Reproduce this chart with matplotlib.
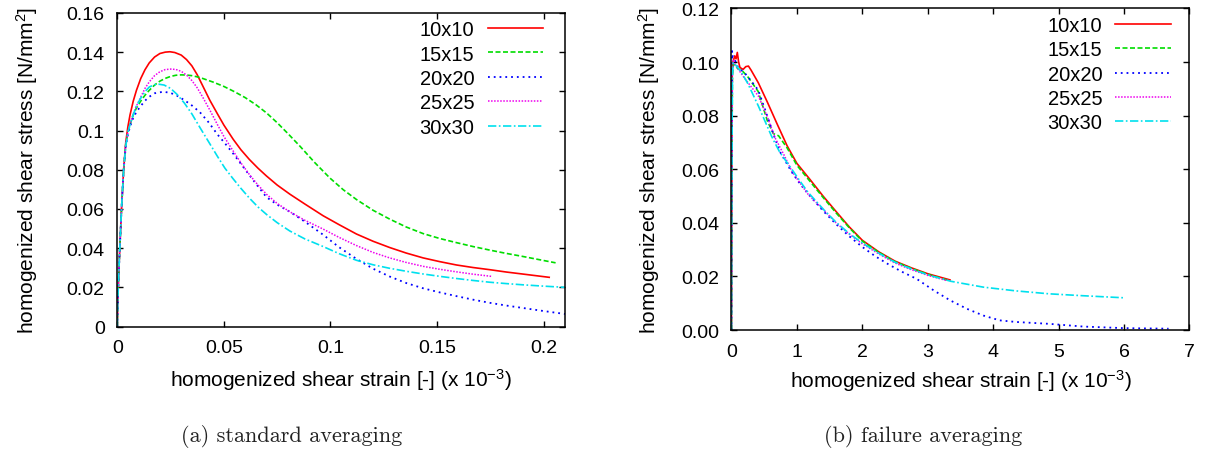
import matplotlib
matplotlib.use("Agg")
import matplotlib.pyplot as plt
from matplotlib.ticker import FuncFormatter, MultipleLocator

plt.rcParams['font.family'] = ['Liberation Sans', 'DejaVu Sans']
plt.rcParams['mathtext.fontset'] = 'custom'
plt.rcParams['mathtext.rm'] = 'Liberation Sans'
plt.rcParams['mathtext.it'] = 'Liberation Sans:italic'

labels = ['10x10', '15x15', '20x20', '25x25', '30x30']

# (a) standard averaging -- strain (x 10^-3), stress N/mm^2
std_x_10 = [0, 0.0003, 0.001, 0.002, 0.003, 0.004, 0.005, 0.006, 0.0075, 0.009, 0.011, 0.013, 0.015, 0.0175,
            0.02, 0.0225, 0.0247, 0.027, 0.03, 0.0325, 0.035, 0.0375, 0.04, 0.0434, 0.047, 0.05, 0.0544,
            0.058, 0.062, 0.066, 0.07, 0.075, 0.081, 0.088, 0.0966, 0.104, 0.1122, 0.12, 0.1278, 0.1355,
            0.1435, 0.1513, 0.1591, 0.1669, 0.1747, 0.1825, 0.19, 0.2026]
std_y_10 = [0, 0.015, 0.035, 0.06, 0.08, 0.094, 0.102, 0.108, 0.115, 0.1205, 0.1265, 0.131, 0.1345, 0.1375,
            0.1393, 0.14, 0.1402, 0.1398, 0.1385, 0.1362, 0.133, 0.1285, 0.123, 0.1155, 0.1085, 0.1028, 0.0955,
            0.0902, 0.0852, 0.0808, 0.0768, 0.0722, 0.0675, 0.0625, 0.0565, 0.052, 0.0472, 0.0435, 0.0403,
            0.0375, 0.035, 0.0331, 0.0314, 0.0301, 0.029, 0.0278, 0.0268, 0.0251]

std_x_15 = [0, 0.0003, 0.001, 0.002, 0.003, 0.004, 0.005, 0.006, 0.0075, 0.009, 0.011, 0.013, 0.015, 0.0175,
            0.02, 0.0225, 0.025, 0.0275, 0.03, 0.0325, 0.035, 0.0375, 0.04, 0.045, 0.05, 0.055, 0.06, 0.065,
            0.07, 0.075, 0.08, 0.0857, 0.0925, 0.0997, 0.106, 0.1122, 0.12, 0.1278, 0.1355, 0.1435, 0.1513,
            0.1591, 0.1669, 0.1747, 0.1825, 0.19, 0.198, 0.2056]
std_y_15 = [0, 0.015, 0.035, 0.06, 0.08, 0.093, 0.099, 0.103, 0.108, 0.1115, 0.115, 0.118, 0.1205, 0.1232,
            0.1252, 0.1266, 0.1276, 0.1282, 0.1284, 0.1283, 0.128, 0.1274, 0.1266, 0.1247, 0.1225, 0.1198,
            0.1168, 0.1132, 0.109, 0.104, 0.0985, 0.092, 0.0838, 0.0758, 0.0698, 0.0648, 0.0593, 0.0548,
            0.0508, 0.0474, 0.0449, 0.0428, 0.0408, 0.039, 0.0373, 0.0358, 0.0341, 0.0325]

std_x_20 = [0, 0.0003, 0.001, 0.002, 0.003, 0.004, 0.005, 0.006, 0.0075, 0.009, 0.011, 0.013, 0.015, 0.0175,
            0.0216, 0.025, 0.028, 0.0315, 0.035, 0.0388, 0.043, 0.047, 0.0505, 0.0544, 0.058, 0.062, 0.066,
            0.07, 0.075, 0.081, 0.088, 0.0966, 0.104, 0.1122, 0.12, 0.1278, 0.1355, 0.1435, 0.1513, 0.1591,
            0.1669, 0.1747, 0.1825, 0.19, 0.2, 0.21]
std_y_20 = [0, 0.015, 0.035, 0.06, 0.08, 0.092, 0.098, 0.102, 0.1065, 0.1095, 0.1125, 0.1152, 0.1172, 0.119,
            0.1198, 0.1192, 0.1178, 0.1155, 0.1128, 0.1093, 0.104, 0.098, 0.0935, 0.0882, 0.083, 0.0772,
            0.0715, 0.066, 0.0622, 0.0585, 0.0535, 0.0468, 0.0405, 0.0345, 0.0295, 0.0255, 0.0222, 0.0195,
            0.0174, 0.0155, 0.0137, 0.0121, 0.0107, 0.0095, 0.0079, 0.0064]

std_x_25 = [0, 0.0003, 0.001, 0.002, 0.003, 0.004, 0.005, 0.006, 0.0075, 0.009, 0.011, 0.013, 0.015, 0.0175,
            0.02, 0.0225, 0.0255, 0.028, 0.03, 0.0325, 0.035, 0.0375, 0.04, 0.0434, 0.047, 0.05, 0.0544,
            0.058, 0.062, 0.066, 0.07, 0.075, 0.081, 0.088, 0.0966, 0.104, 0.1122, 0.12, 0.1278, 0.1355,
            0.1435, 0.1513, 0.1591, 0.1669, 0.1755]
std_y_25 = [0, 0.015, 0.035, 0.06, 0.08, 0.093, 0.099, 0.1035, 0.1085, 0.1125, 0.117, 0.1215, 0.1248, 0.128,
            0.13, 0.1311, 0.1314, 0.131, 0.1302, 0.1283, 0.1255, 0.1218, 0.1172, 0.1105, 0.103, 0.097, 0.0895,
            0.0835, 0.0775, 0.0722, 0.0675, 0.0628, 0.0585, 0.0542, 0.0497, 0.0455, 0.0413, 0.0378, 0.035,
            0.0327, 0.0307, 0.0292, 0.0279, 0.0267, 0.0256]

std_x_30 = [0, 0.0003, 0.001, 0.002, 0.003, 0.004, 0.005, 0.006, 0.0075, 0.009, 0.011, 0.013, 0.015, 0.0175,
            0.0197, 0.022, 0.025, 0.028, 0.0315, 0.035, 0.0388, 0.043, 0.047, 0.0505, 0.0544, 0.058, 0.062,
            0.066, 0.07, 0.075, 0.081, 0.088, 0.0966, 0.104, 0.1122, 0.12, 0.1278, 0.1355, 0.1435, 0.1513,
            0.1591, 0.1669, 0.1747, 0.1825, 0.19, 0.2, 0.21]
std_y_30 = [0, 0.015, 0.035, 0.06, 0.08, 0.092, 0.099, 0.103, 0.108, 0.1125, 0.1165, 0.1198, 0.1222, 0.1234,
            0.1236, 0.1232, 0.1215, 0.1185, 0.114, 0.1085, 0.1015, 0.094, 0.0868, 0.0808, 0.0753, 0.0705,
            0.0655, 0.061, 0.0572, 0.053, 0.0487, 0.0447, 0.0408, 0.0372, 0.0338, 0.0315, 0.0297, 0.0282,
            0.0268, 0.0256, 0.0245, 0.0235, 0.0226, 0.0219, 0.0213, 0.0206, 0.02]

# (b) failure averaging
fail_x_10 = [0, 0.005, 0.012, 0.03, 0.05, 0.07, 0.09, 0.11, 0.13, 0.16, 0.18, 0.22, 0.26, 0.3, 0.41, 0.55,
             0.7, 0.85, 1.0, 1.2, 1.4, 1.6, 1.8, 2.0, 2.25, 2.5, 2.75, 3.0, 3.34]
fail_y_10 = [0, 0.05, 0.099, 0.1005, 0.1023, 0.1012, 0.1036, 0.1, 0.098, 0.0975, 0.0973, 0.0983, 0.0985,
             0.097, 0.0923, 0.085, 0.0768, 0.0688, 0.0622, 0.0562, 0.050, 0.0442, 0.0385, 0.0335, 0.0292,
             0.0257, 0.0232, 0.021, 0.0187]

fail_x_15 = [0, 0.005, 0.015, 0.03, 0.06, 0.1, 0.155, 0.25, 0.41, 0.55, 0.64, 0.66, 0.72, 0.85, 1.0, 1.2,
             1.4, 1.6, 1.8, 2.0, 2.25, 2.5, 2.75, 3.0, 3.3]
fail_y_15 = [0, 0.05, 0.095, 0.0992, 0.0985, 0.0975, 0.097, 0.0945, 0.089, 0.078, 0.0733, 0.0731, 0.0725,
             0.068, 0.0615, 0.0555, 0.0495, 0.0437, 0.0382, 0.0332, 0.029, 0.0255, 0.023, 0.0208, 0.0186]

fail_x_20 = [0, 0.003, 0.01, 0.02, 0.05, 0.1, 0.2, 0.3, 0.41, 0.56, 0.665, 0.742, 0.92, 1.05, 1.2, 1.4, 1.6,
             1.8, 2.0, 2.2, 2.4, 2.6, 2.83, 3.09, 3.34, 3.6, 3.85, 4.1, 4.35, 4.86, 5.37, 6.0, 6.68]
fail_y_20 = [0, 0.06, 0.1041, 0.102, 0.101, 0.098, 0.096, 0.093, 0.0895, 0.079, 0.0715, 0.0665, 0.059,
             0.0545, 0.05, 0.0445, 0.0395, 0.035, 0.031, 0.0275, 0.0245, 0.0218, 0.0191, 0.0148, 0.0111,
             0.0079, 0.0054, 0.0036, 0.003, 0.0023, 0.0013, 0.0007, 0.0005]

fail_x_25 = [0, 0.005, 0.015, 0.028, 0.06, 0.105, 0.2, 0.41, 0.55, 0.665, 0.8, 0.92, 1.05, 1.17, 1.4, 1.6,
             1.8, 2.0, 2.25, 2.5, 2.75, 3.0, 3.3]
fail_y_25 = [0, 0.05, 0.095, 0.101, 0.099, 0.0973, 0.094, 0.0874, 0.0795, 0.0718, 0.0655, 0.0594, 0.0548,
             0.0507, 0.045, 0.040, 0.0358, 0.0322, 0.0284, 0.025, 0.0225, 0.0204, 0.0184]

fail_x_30 = [0, 0.005, 0.015, 0.028, 0.08, 0.155, 0.25, 0.41, 0.61, 0.65, 0.74, 0.92, 1.05, 1.17, 1.43, 1.6,
             1.8, 2.0, 2.25, 2.5, 2.75, 3.0, 3.35, 3.85, 4.35, 4.86, 5.37, 6.02]
fail_y_30 = [0, 0.05, 0.095, 0.0998, 0.0985, 0.0961, 0.092, 0.0837, 0.0725, 0.0705, 0.0663, 0.0601, 0.0555,
             0.0514, 0.0444, 0.0402, 0.036, 0.0325, 0.0287, 0.0253, 0.0228, 0.0206, 0.0182, 0.016, 0.0146,
             0.0135, 0.0128, 0.012]

std_curves = [(std_x_10, std_y_10), (std_x_15, std_y_15), (std_x_20, std_y_20),
              (std_x_25, std_y_25), (std_x_30, std_y_30)]
fail_curves = [(fail_x_10, fail_y_10), (fail_x_15, fail_y_15), (fail_x_20, fail_y_20),
               (fail_x_25, fail_y_25), (fail_x_30, fail_y_30)]

# gnuplot-like line types
styles = [
    dict(color='#ff0000', linestyle='-', lw=1.2),
    dict(color='#00dd00', linestyle=(0, (3, 1.5)), lw=1.2),
    dict(color='#0000ff', linestyle=(0, (1, 2.2)), lw=1.3),
    dict(color='#ee00ee', linestyle=(0, (1, 1)), lw=1.1),
    dict(color='#00e0ee', linestyle=(0, (5, 1.5, 1, 1.5)), lw=1.2),
]

fig = plt.figure(figsize=(12.15, 4.6), dpi=100)
ax1 = fig.add_axes([0.0965, 0.288, 0.3685, 0.6817])
ax2 = fig.add_axes([0.602, 0.2804, 0.377, 0.699])

for (x, y), lab, st in zip(std_curves, labels, styles):
    ax1.plot(x, y, label=lab, **st)
for (x, y), lab, st in zip(fail_curves, labels, styles):
    ax2.plot(x, y, label=lab, **st)

ax1.set_xlim(0, 0.21)
ax1.set_ylim(0, 0.16)
ax1.xaxis.set_major_locator(MultipleLocator(0.05))
ax1.yaxis.set_major_locator(MultipleLocator(0.02))
ax1.xaxis.set_major_formatter(FuncFormatter(lambda v, p: '%g' % round(v, 4)))
ax1.yaxis.set_major_formatter(FuncFormatter(lambda v, p: '%g' % round(v, 4)))

ax2.set_xlim(0, 7)
ax2.set_ylim(0, 0.12)
ax2.xaxis.set_major_locator(MultipleLocator(1))
ax2.yaxis.set_major_locator(MultipleLocator(0.02))
ax2.yaxis.set_major_formatter(FuncFormatter(lambda v, p: '%.2f' % v))

xlab = r'homogenized shear strain [-] (x 10$^{-3}$)'
ylab = r'homogenized shear stress [N/mm$^{2}$]'
for ax, lx, ly, xl in ((ax1, 0.96, -0.126, -0.172), (ax2, 0.968, -0.115, -0.152)):
    ax.tick_params(direction='in', length=4.5, width=1, top=True, right=True, labelsize=14, pad=9)
    for s in ax.spines.values():
        s.set_linewidth(1.1)
    ax.set_xlabel(xlab, fontsize=15)
    ax.set_ylabel(ylab, fontsize=15)
    ax.xaxis.set_label_coords(0.5, ly)
    ax.yaxis.set_label_coords(xl, 0.5)
    ax.legend(loc='upper right', bbox_to_anchor=(lx, 0.99), frameon=False, markerfirst=False,
              fontsize=14.5, handlelength=2.75, labelspacing=0.27, handletextpad=0.65,
              borderaxespad=0, borderpad=0.2)

fig.text(0.24, 0.05, '(a) standard averaging', family='cmr10', fontsize=16, ha='center', va='center',
         color='#222222')
fig.text(0.76, 0.05, '(b) failure averaging', family='cmr10', fontsize=16, ha='center', va='center',
         color='#222222')

fig.savefig('out.png', dpi=100)
